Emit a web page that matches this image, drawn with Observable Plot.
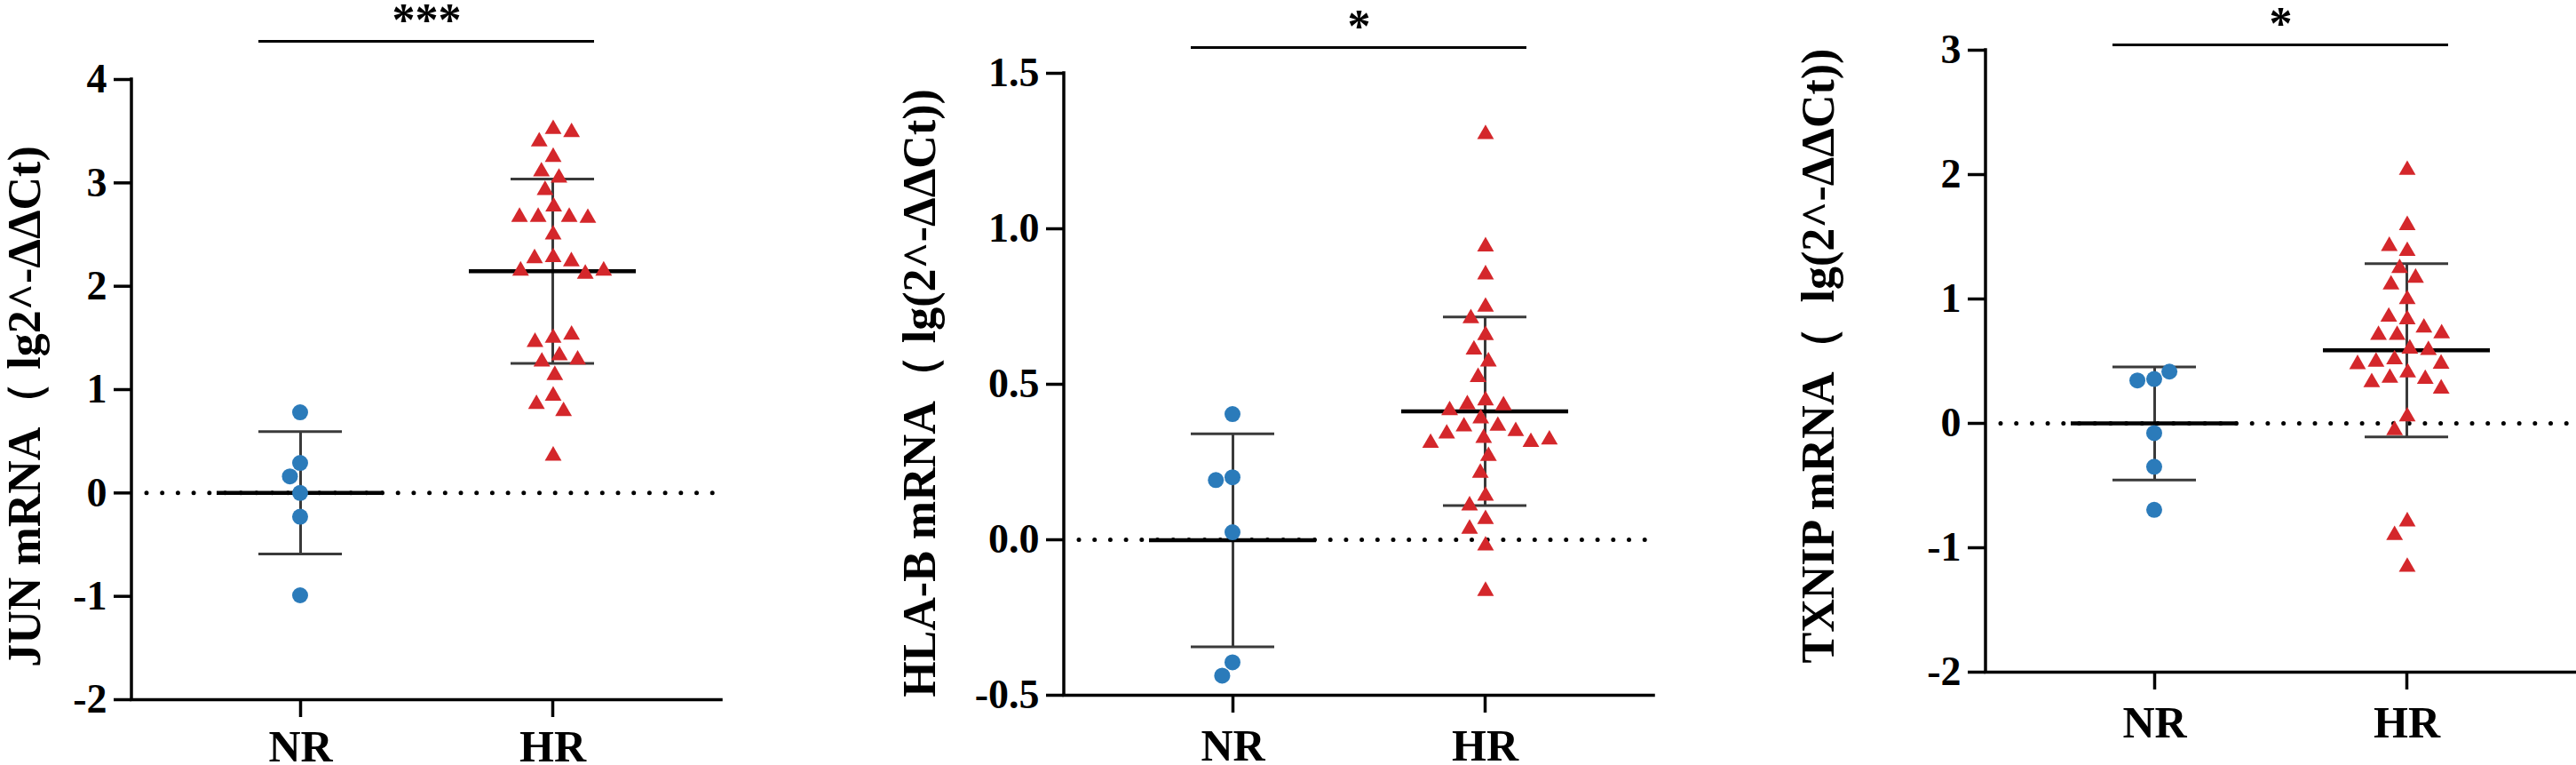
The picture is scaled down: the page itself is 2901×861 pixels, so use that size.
<!DOCTYPE html>
<html><head><meta charset="utf-8">
<script src="https://cdn.jsdelivr.net/npm/d3@7"></script>
<script src="https://cdn.jsdelivr.net/npm/@observablehq/plot@0.6"></script>
<style>
html,body{margin:0;padding:0;background:#fff;}
#root{position:relative;width:2901px;height:861px;overflow:hidden;background:#fff;}
.panel{position:absolute;top:0;width:967px;height:861px;}
</style></head><body><div id="root"></div>
<script>
// ---- data ----
const groups = ["NR", "HR"];

const junNR = [0.78, 0.29, 0.16, 0.00, -0.23, -0.99];
const junHR = [3.52, 3.40, 3.49, 3.25, 3.11, 3.05, 2.93, 2.77, 2.67, 2.67, 2.67, 2.66, 2.50, 2.28, 2.27,
               2.24, 2.15, 2.12, 2.15, 1.50, 1.46, 1.53, 1.33, 1.27, 1.29, 1.14, 0.94, 0.86, 0.79, 0.36];

const hlabNR = [0.404, 0.201, 0.192, 0.024, -0.394, -0.437];
const hlabHR = [1.304, 0.943, 0.853, 0.749, 0.712, 0.658, 0.611, 0.573, 0.523, 0.448, 0.435, 0.432, 0.416, 0.390, 0.366,
                0.364, 0.349, 0.341, 0.327, 0.314, 0.311, 0.322, 0.269, 0.215, 0.141, 0.110, 0.066, 0.035, -0.019, -0.165];

const txnipNR = [0.357, 0.345, 0.416, -0.078, -0.349, -0.695];
const txnipHR = [2.037, 1.593, 1.385, 1.425, 1.248, 1.170, 1.115, 0.997, 0.836, 0.856, 0.769, 0.710, 0.710, 0.722, 0.600,
                 0.589, 0.514, 0.495, 0.479, 0.475, 0.408, 0.365, 0.357, 0.330, 0.279, 0.055, -0.055, -0.789, -0.899, -1.154];

const yLabels = ["JUN mRNA（ lg2^-ΔΔCt)", "HLA-B mRNA（ lg(2^-ΔΔCt))", "TXNIP mRNA（  lg(2^-ΔΔCt))"];
const yDomains = [[-2, 4], [-0.5, 1.5], [-2, 3]];
const yTicks = [[-2, -1, 0, 1, 2, 3, 4], [-0.5, 0, 0.5, 1, 1.5], [-2, -1, 0, 1, 2, 3]];
const sigLabels = ["***", "*", "*"];
const sigLevels = [4.37, 1.583, 3.043];

const nrSeries = [junNR, hlabNR, txnipNR];
const hrSeries = [junHR, hlabHR, txnipHR];

// ---- layout / style ----
const W = 967, H = 861, innerW = 664, PIN = 0.67, POUT = 0.5;
const FONT = "'Liberation Serif', 'Times New Roman', serif";
const blue = "#2b7bba", red = "#d4272b", barColor = "#3a3a3a";
const layout = [
  {left: 0,    ml: 148, mt: 89, mb: 74,  labelDx: -120, labelDy: 19, xPad: 14, fmt: d => String(d)},
  {left: 967,  ml: 231, mt: 82, mb: 79,  labelDx: -162, labelDy: 10, xPad: 18, fmt: d => d.toFixed(1)},
  {left: 1934, ml: 302, mt: 56, mb: 105, labelDx: -188, labelDy: -6, xPad: 18, fmt: d => String(d)}
];

function leftAxisLine(index, scales, values, dims) {
  return d3.create("svg:line")
    .attr("x1", dims.marginLeft).attr("x2", dims.marginLeft)
    .attr("y1", dims.marginTop).attr("y2", dims.height - dims.marginBottom)
    .attr("stroke", "#000").attr("stroke-width", 3.5).attr("stroke-linecap", "square")
    .node();
}

function panel(i) {
  const L = layout[i];
  const series = [nrSeries[i], hrSeries[i]];
  const stats = groups.map((g, k) => {
    const m = d3.mean(series[k]), s = d3.deviation(series[k]);
    return {g, mean: m, lo: m - s, hi: m + s};
  });
  const bs = d3.scaleBand().domain(groups).range([0, innerW]).paddingInner(PIN).paddingOuter(POUT);
  const half = bs.bandwidth() / 2;
  // Plot already shifts marks on a band x scale by half a band; offset from the frame centre to the band start
  const dxOf = g => bs(g) - innerW / 2;
  return Plot.plot({
    width: W, height: H,
    marginLeft: L.ml, marginRight: W - L.ml - innerW, marginTop: L.mt, marginBottom: L.mb,
    x: {type: "band", domain: groups, paddingInner: PIN, paddingOuter: POUT},
    y: {domain: yDomains[i], nice: false},
    style: {fontFamily: FONT, fontWeight: "bold", color: "#000", background: "#fff", overflow: "visible"},
    marks: [
      Plot.ruleY([0], {stroke: "#000", strokeWidth: 5, strokeDasharray: "0 17.7", strokeDashoffset: -17, strokeLinecap: "round"}),
      Plot.ruleX(stats, {x: "g", y1: "lo", y2: "hi", stroke: barColor, strokeWidth: 3}),
      Plot.tickY(stats, {x: "g", y: "hi", stroke: barColor, strokeWidth: 3}),
      Plot.tickY(stats, {x: "g", y: "lo", stroke: barColor, strokeWidth: 3}),
      Plot.tickY(stats, {x: "g", y: "mean", stroke: "#000", strokeWidth: 4.5, insetLeft: -half, insetRight: -half}),
      Plot.dot(series[0], Plot.dodgeX({anchor: "middle", padding: 1}, {y: d => d, r: 9, fill: blue, symbol: "circle", dx: dxOf("NR")})),
      Plot.dot(series[1], Plot.dodgeX({anchor: "middle", padding: 7}, {y: d => d, r: 7, fill: red, symbol: "triangle", dx: dxOf("HR")})),
      Plot.ruleY([yDomains[i][0]], {stroke: "#000", strokeWidth: 3.5, strokeLinecap: "square"}),
      leftAxisLine,
      Plot.axisY({ticks: yTicks[i], tickFormat: L.fmt, tickSize: 20, tickPadding: 8, fontSize: 46, fontFamily: FONT, fontWeight: "bold", strokeWidth: 3.5, label: null}),
      Plot.axisX({tickSize: 20, tickPadding: L.xPad, fontSize: 50, fontFamily: FONT, fontWeight: "bold", strokeWidth: 3.5, label: null}),
      Plot.ruleY([sigLevels[i]], {x1: () => groups[0], x2: () => groups[1], stroke: "#000", strokeWidth: 3}),
      Plot.text([sigLabels[i]], {y: () => sigLevels[i], text: d => d, fontSize: 52, fontFamily: FONT, fontWeight: "bold", dy: -23}),
      Plot.text([yLabels[i]], {frameAnchor: "left", textAnchor: "middle", lineAnchor: "middle", rotate: -90, dx: L.labelDx, dy: L.labelDy, fontSize: 52, fontFamily: FONT, fontWeight: "bold", text: d => d})
    ]
  });
}

const root = document.getElementById("root");
for (let i = 0; i < 3; ++i) {
  const div = document.createElement("div");
  div.className = "panel";
  div.style.left = layout[i].left + "px";
  div.appendChild(panel(i));
  root.appendChild(div);
}
</script>
</body></html>
